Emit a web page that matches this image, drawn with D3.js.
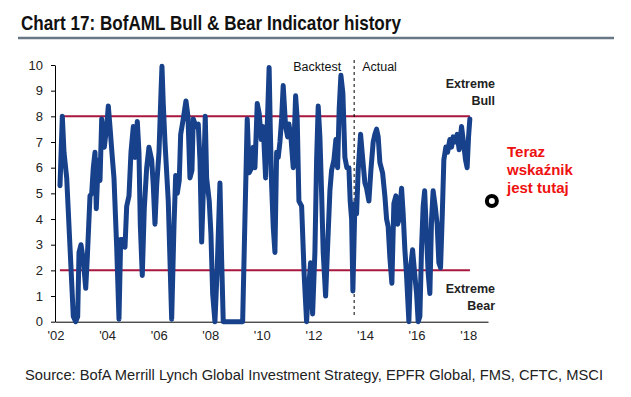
<!DOCTYPE html>
<html>
<head>
<meta charset="utf-8">
<script src="https://cdn.jsdelivr.net/npm/d3@7"></script>
<style>
  body { margin: 0; background: #fff; }
  svg { display: block; }
  text { font-family: "Liberation Sans", Arial, sans-serif; }
</style>
</head>
<body>
<div id="chart"></div>
<script>
// Bull & Bear indicator, decimal years and readings
const dates = [
  2002.174, 2002.264, 2002.329, 2002.434, 2002.562, 2002.690, 2002.783, 2002.860, 2002.911, 2002.988,
  2003.078, 2003.171, 2003.233, 2003.337, 2003.403, 2003.465, 2003.531, 2003.581, 2003.659, 2003.725,
  2003.791, 2003.891, 2003.984, 2004.047, 2004.112, 2004.202, 2004.267, 2004.372, 2004.461, 2004.527,
  2004.628, 2004.694, 2004.760, 2004.849, 2004.926, 2005.016, 2005.081, 2005.171, 2005.236, 2005.287,
  2005.364, 2005.442, 2005.535, 2005.624, 2005.729, 2005.791, 2005.857, 2005.922, 2006.012, 2006.089,
  2006.128, 2006.178, 2006.244, 2006.372, 2006.504, 2006.593, 2006.659, 2006.721, 2006.798, 2006.853,
  2006.953, 2007.058, 2007.136, 2007.213, 2007.291, 2007.341, 2007.446, 2007.535, 2007.601, 2007.667,
  2007.729, 2007.806, 2007.860, 2007.961, 2008.027, 2008.093, 2008.182, 2008.271, 2008.376, 2008.442,
  2008.504, 2009.256, 2009.345, 2009.434, 2009.512, 2009.605, 2009.667, 2009.733, 2009.822, 2009.899,
  2009.977, 2010.054, 2010.147, 2010.209, 2010.283, 2010.326, 2010.380, 2010.442, 2010.508, 2010.574,
  2010.636, 2010.702, 2010.767, 2010.829, 2010.922, 2011.000, 2011.050, 2011.128, 2011.217, 2011.310,
  2011.372, 2011.438, 2011.543, 2011.643, 2011.736, 2011.798, 2011.891, 2011.969, 2012.058, 2012.124,
  2012.186, 2012.252, 2012.318, 2012.380, 2012.473, 2012.550, 2012.640, 2012.705, 2012.795, 2012.872,
  2012.938, 2013.000, 2013.066, 2013.143, 2013.221, 2013.298, 2013.376, 2013.426, 2013.481, 2013.531,
  2013.609, 2013.674, 2013.736, 2013.829, 2013.907, 2013.996, 2014.062, 2014.151, 2014.229, 2014.318,
  2014.384, 2014.450, 2014.512, 2014.578, 2014.682, 2014.771, 2014.837, 2014.899, 2014.965, 2015.043,
  2015.120, 2015.198, 2015.264, 2015.326, 2015.419, 2015.481, 2015.547, 2015.612, 2015.702, 2015.767,
  2015.845, 2015.934, 2016.000, 2016.062, 2016.128, 2016.194, 2016.256, 2016.314, 2016.388, 2016.450,
  2016.516, 2016.581, 2016.643, 2016.721, 2016.798, 2016.864, 2016.930, 2016.992, 2017.058, 2017.136,
  2017.202, 2017.291, 2017.357, 2017.419, 2017.496, 2017.574, 2017.651, 2017.744, 2017.806, 2017.899,
  2017.961, 2018.016, 2018.066
];
const values = [
  5.3, 8.0, 6.6, 5.6, 2.9, 0.2, 0.0, 0.2, 2.7, 3.0,
  2.4, 1.3, 2.5, 4.9, 5.0, 6.0, 6.6, 4.4, 6.3, 5.5,
  7.9, 6.8, 7.6, 8.4, 7.6, 6.4, 5.6, 2.9, 0.1, 3.2,
  3.2, 2.9, 4.5, 4.9, 6.6, 7.6, 6.4, 7.8, 6.6, 3.8,
  1.8, 4.4, 6.0, 6.8, 6.3, 5.3, 3.8, 5.3, 6.6, 8.9,
  9.95, 8.5, 7.0, 4.7, 0.1, 3.7, 5.7, 5.0, 5.5, 7.3,
  7.9, 8.6, 8.0, 5.6, 5.9, 7.9, 7.6, 7.7, 6.3, 3.1,
  5.0, 8.0, 5.6, 4.7, 3.4, 1.1, 0.0, 2.1, 5.4, 2.4,
  0.0, 0.0, 4.0, 7.9, 5.8, 6.0, 6.8, 6.0, 8.5, 8.1,
  7.1, 7.6, 5.6, 7.6, 9.9, 7.6, 5.3, 3.7, 2.7, 6.6,
  6.4, 7.0, 7.9, 9.2, 7.6, 7.2, 7.7, 7.2, 6.0, 8.8,
  7.9, 4.7, 4.5, 1.8, 0.0, 1.1, 2.3, 0.3, 2.7, 6.3,
  8.4, 7.2, 5.0, 2.7, 1.0, 2.9, 5.1, 5.9, 6.3, 7.1,
  6.0, 8.3, 9.6, 8.9, 6.4, 6.0, 6.0, 4.7, 4.0, 1.2,
  4.6, 4.2, 5.9, 7.3, 6.4, 5.4, 5.2, 4.7, 5.9, 7.0,
  7.3, 7.5, 7.2, 6.2, 5.8, 4.9, 4.0, 3.7, 2.5, 1.5,
  4.6, 4.9, 3.8, 4.0, 5.2, 4.2, 2.8, 1.8, 0.0, 2.1,
  2.8, 1.8, 1.1, 0.0, 0.2, 2.9, 4.5, 5.1, 3.3, 1.9,
  1.1, 4.0, 5.1, 4.5, 3.8, 2.3, 2.1, 4.0, 6.3, 6.8,
  6.6, 7.1, 6.8, 7.2, 7.0, 7.3, 6.7, 7.6, 7.1, 6.3,
  6.0, 7.2, 7.9
];

const yTicks = [0, 1, 2, 3, 4, 5, 6, 7, 8, 9, 10];
const xTicks = [2002, 2004, 2006, 2008, 2010, 2012, 2014, 2016, 2018];
const thresholds = [8, 2];
const splitYear = 2013.58;              // backtest / actual divider
const nowMarker = { year: 2018.92, value: 4.7 };
const noteLines = ['Teraz', 'wskaźnik', 'jest tutaj'];

const width = 631;
const height = 397;
const margin = { top: 65, right: 143, bottom: 75, left: 55 };

const svg = d3.select('#chart').append('svg')
  .attr('width', width)
  .attr('height', height);

const x = d3.scaleLinear()
  .domain([2001.98, 2018.77])
  .range([margin.left, width - margin.right]);

const y = d3.scaleLinear()
  .domain([0, 10])
  .range([height - margin.bottom - 0.3, margin.top]);

// title + rule
svg.append('text')
  .attr('x', 21)
  .attr('y', 30)
  .attr('font-family', 'Roboto, "Liberation Sans", sans-serif')
  .attr('font-weight', 'bold')
  .attr('font-size', 21)
  .attr('fill', '#111')
  .attr('textLength', 380)
  .attr('lengthAdjust', 'spacingAndGlyphs')
  .text('Chart 17: BofAML Bull & Bear Indicator history');

svg.append('line')
  .attr('x1', 18).attr('x2', 614)
  .attr('y1', 38).attr('y2', 38)
  .attr('stroke', '#687785')
  .attr('stroke-width', 2.5);

// axes
svg.append('g')
  .attr('transform', 'translate(' + margin.left + ',0)')
  .call(d3.axisLeft(y).tickValues(yTicks).tickSize(4).tickPadding(8).tickSizeOuter(0))
  .call(g => g.selectAll('text').attr('font-size', 13).attr('fill', '#222'))
  .call(g => g.selectAll('line, path').attr('stroke', '#000'));

svg.append('g')
  .attr('transform', 'translate(0,' + y(0) + ')')
  .call(d3.axisBottom(x).tickValues(xTicks).tickSize(0).tickPadding(9)
    .tickFormat(d => "'" + String(d).slice(2)))
  .call(g => g.selectAll('text').attr('font-size', 13).attr('fill', '#222'))
  .call(g => g.select('.domain').attr('stroke', '#000'));

// extreme bull / bear lines
svg.selectAll('.threshold')
  .data(thresholds)
  .enter().append('line')
  .attr('class', 'threshold')
  .attr('x1', x(2002.17)).attr('x2', x(2018.07))
  .attr('y1', d => y(d)).attr('y2', d => y(d))
  .attr('stroke', '#a8173d')
  .attr('stroke-width', 2);

// backtest divider
svg.append('line')
  .attr('x1', x(splitYear)).attr('x2', x(splitYear))
  .attr('y1', 60).attr('y2', y(0) - 4)
  .attr('stroke', '#000')
  .attr('stroke-width', 1)
  .attr('stroke-dasharray', '3,3');

svg.append('text')
  .attr('x', x(splitYear) - 13).attr('y', 71)
  .attr('text-anchor', 'end')
  .attr('font-size', 12.5).attr('fill', '#111')
  .text('Backtest');

svg.append('text')
  .attr('x', x(splitYear) + 8).attr('y', 71)
  .attr('font-size', 12.5).attr('fill', '#111')
  .text('Actual');

// indicator line
const points = dates.map((d, i) => ({ date: d, value: values[i] }));

const line = d3.line()
  .x(d => x(d.date))
  .y(d => y(d.value));

svg.append('path')
  .datum(points)
  .attr('fill', 'none')
  .attr('stroke', '#17418b')
  .attr('stroke-width', 5)
  .attr('stroke-linejoin', 'round')
  .attr('stroke-linecap', 'round')
  .attr('d', line);

// labels on the right
const sideLabels = [
  { lines: ['Extreme', 'Bull'], y: 88 },
  { lines: ['Extreme', 'Bear'], y: 293 }
];
sideLabels.forEach(l => {
  svg.append('text')
    .attr('x', 495).attr('y', l.y)
    .attr('text-anchor', 'end')
    .attr('font-size', 12.5).attr('font-weight', 'bold').attr('fill', '#222')
    .selectAll('tspan')
    .data(l.lines)
    .enter().append('tspan')
    .attr('x', 495)
    .attr('dy', (d, i) => i === 0 ? 0 : 17)
    .text(d => d);
});

// "now" marker and note
svg.append('circle')
  .attr('cx', x(nowMarker.year))
  .attr('cy', y(nowMarker.value))
  .attr('r', 5)
  .attr('fill', '#fff')
  .attr('stroke', '#000')
  .attr('stroke-width', 4);

svg.append('text')
  .attr('x', 507).attr('y', 157)
  .attr('font-size', 15).attr('font-weight', 'bold').attr('fill', '#ee1111')
  .selectAll('tspan')
  .data(noteLines)
  .enter().append('tspan')
  .attr('x', 507)
  .attr('dy', (d, i) => i === 0 ? 0 : 18)
  .text(d => d);

// source
svg.append('text')
  .attr('x', 25).attr('y', 380)
  .attr('font-family', 'Roboto, "Liberation Sans", sans-serif')
  .attr('font-size', 15)
  .attr('fill', '#222')
  .attr('textLength', 578)
  .attr('lengthAdjust', 'spacingAndGlyphs')
  .text('Source: BofA Merrill Lynch Global Investment Strategy, EPFR Global, FMS, CFTC, MSCI');
</script>
</body>
</html>
